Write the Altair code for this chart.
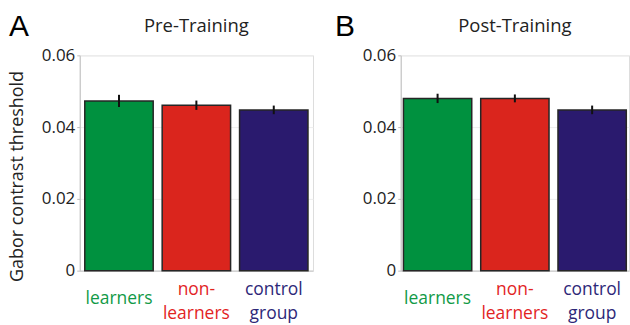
import altair as alt
import pandas as pd

# Group names and colours
groups = ["learners", "non-learners", "control group"]
bar_colors = ["#00913f", "#da251d", "#2a1a6e"]
label_colors = ["#119a47", "#e2241f", "#2d2878"]

# Mean Gabor contrast thresholds and error-bar half widths per session
pre_means = [0.0473, 0.0461, 0.0448]
pre_errs = [0.0017, 0.0013, 0.0012]
post_means = [0.0480, 0.0480, 0.0448]
post_errs = [0.0013, 0.0011, 0.0012]

FONT = "Open Sans"
TEXT = "#222222"

label_color = {
    "condition": [
        {"test": f"datum.value == '{g}'", "value": c}
        for g, c in zip(groups[:-1], label_colors[:-1])
    ],
    "value": label_colors[-1],
}
# two-line labels start higher so that every label block is centred on the same line
label_padding = {"condition": {"test": "datum.value == 'learners'", "value": 28}, "value": 19}
label_expr = (
    "datum.value == 'non-learners' ? ['non-', 'learners'] : "
    "datum.value == 'control group' ? ['control', 'group'] : datum.value"
)


def panel(means, errs, title, letter, letter_x, width, pad_outer, y_title):
    df = pd.DataFrame({
        "group": groups,
        "mean": means,
        "lo": [m - e for m, e in zip(means, errs)],
        "hi": [m + e for m, e in zip(means, errs)],
    })
    x = alt.X(
        "group:N",
        sort=groups,
        scale=alt.Scale(paddingInner=0.116, paddingOuter=pad_outer),
        axis=alt.Axis(
            title=None, labelAngle=0, labelExpr=label_expr,
            labelColor=label_color, labelFont=FONT, labelFontSize=17.5,
            labelBaseline="middle", labelLineHeight=24, labelPadding=label_padding,
            ticks=False, domainColor="#c4c4c4", domainWidth=1,
            labelAlign="center",
        ),
    )
    axis_kw = dict(
        values=[0, 0.01, 0.02, 0.03, 0.04, 0.05, 0.06],
        format=".2~f",
        labelExpr="indexof(['0', '0.02', '0.04', '0.06'], datum.label) >= 0 ? datum.label : ''",
        labelFont=FONT, labelFontSize=17, labelColor=TEXT, labelPadding=2,
        tickSize=3, tickColor="#bdbdbd", domainColor="#c4c4c4",
        gridColor="#eeeeee", gridWidth=1,
    )
    if y_title:
        y_axis = alt.Axis(
            **axis_kw,
            title="Gabor contrast threshold", titleFont=FONT, titleFontSize=18,
            titleFontWeight="normal", titleColor=TEXT,
            titleBaseline="alphabetic", titleX=-57, titleY=121, titleAngle=270,
        )
    else:
        y_axis = alt.Axis(**axis_kw, title=None)
    y = alt.Y("mean:Q", scale=alt.Scale(domain=[0, 0.06], nice=False), axis=y_axis)

    base = alt.Chart(df)
    bars = base.mark_bar(stroke="#262626", strokeWidth=1.5).encode(
        x=x,
        y=y,
        color=alt.Color("group:N", scale=alt.Scale(domain=groups, range=bar_colors), legend=None),
    )
    errbars = base.mark_rule(color="#111111", strokeWidth=2).encode(
        x=alt.X("group:N", sort=groups), y="lo:Q", y2="hi:Q"
    )
    # panel letter and session heading above the plot
    tag = alt.Chart(pd.DataFrame({"t": [letter]})).mark_text(
        font="Liberation Sans", fontSize=30, align="left", baseline="alphabetic", color="#000000"
    ).encode(text="t:N", x=alt.value(letter_x), y=alt.value(-19))
    heading = alt.Chart(pd.DataFrame({"t": [title]})).mark_text(
        font=FONT, fontSize=18.5, align="center", baseline="alphabetic", color=TEXT
    ).encode(text="t:N", x=alt.value(width / 2), y=alt.value(-23))

    return alt.layer(bars, errbars, tag, heading).properties(width=width, height=216)


left = panel(pre_means, pre_errs, "Pre-Training", "A", -71, 234, 0.065, True)
right = panel(post_means, post_errs, "Post-Training", "B", -66, 229, 0.035, False)

chart = alt.hconcat(left, right, spacing=88, bounds="flush").resolve_scale(
    x="independent"
).properties(
    padding={"left": 8, "top": 11, "right": 0, "bottom": 0}
).configure_view(stroke=None).configure(background="white")

chart.save("out.html", embed_options={"renderer": "svg", "actions": False})
